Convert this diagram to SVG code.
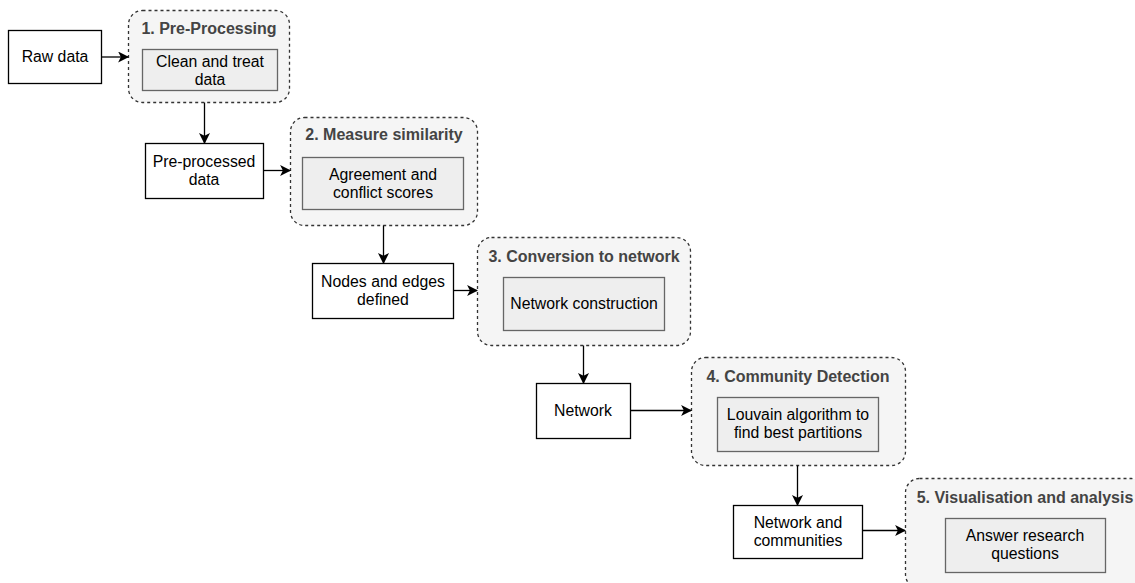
<svg xmlns="http://www.w3.org/2000/svg" width="1135" height="583" viewBox="0 0 1135 583">
<style>
.bg{fill:#ffffff}
.grp{fill:#f5f5f5;stroke:#333333;stroke-width:1.3;stroke-dasharray:3 3}
.inner{fill:#eeeeee;stroke:#666666;stroke-width:1.3}
.box{fill:#ffffff;stroke:#000000;stroke-width:1.3}
.t{font-family:"Liberation Sans",Arial,sans-serif;font-size:15.8px;fill:#000000;text-anchor:middle}
.h{font-family:"Liberation Sans",Arial,sans-serif;font-size:16px;font-weight:bold;fill:#444444;text-anchor:middle}
.c{fill:none;stroke:#000000;stroke-width:1.3}
</style>
<defs>
<marker id="arr" viewBox="0 0 10 10" refX="9" refY="5" markerWidth="11" markerHeight="11" markerUnits="userSpaceOnUse" orient="auto">
<path d="M0,0 L10,5 L0,10 L2.5,5 Z" fill="#000000"/>
</marker>
</defs>
<rect class="bg" x="0" y="0" width="1135" height="583"/>
<g id="raw-data">
<rect class="box" x="8.5" y="30.5" width="93" height="53"/>
<text class="t" x="55" y="62">Raw data</text>
</g>
<g id="step1">
<rect class="grp" x="128.5" y="10.5" width="161" height="92" rx="14"/>
<text class="h" x="209" y="34">1. Pre-Processing</text>
<rect class="inner" x="142.5" y="49.5" width="135" height="41"/>
<text class="t" x="210" y="67">Clean and treat</text>
<text class="t" x="210" y="85">data</text>
</g>
<g id="preprocessed">
<rect class="box" x="145.5" y="143.5" width="118" height="55"/>
<text class="t" x="204" y="167">Pre-processed</text>
<text class="t" x="204" y="185">data</text>
</g>
<g id="step2">
<rect class="grp" x="290.5" y="117.5" width="187" height="108" rx="14"/>
<text class="h" x="384" y="140">2. Measure similarity</text>
<rect class="inner" x="302.5" y="157.5" width="161" height="52"/>
<text class="t" x="383" y="180">Agreement and</text>
<text class="t" x="383" y="198">conflict scores</text>
</g>
<g id="nodes-edges">
<rect class="box" x="312.5" y="263.5" width="141" height="55"/>
<text class="t" x="383" y="287">Nodes and edges</text>
<text class="t" x="383" y="305">defined</text>
</g>
<g id="step3">
<rect class="grp" x="477.5" y="237.5" width="213" height="108" rx="14"/>
<text class="h" x="584" y="262">3. Conversion to network</text>
<rect class="inner" x="503.5" y="277.5" width="161" height="53"/>
<text class="t" x="584" y="309">Network construction</text>
</g>
<g id="network">
<rect class="box" x="536.5" y="383.5" width="94" height="55"/>
<text class="t" x="583" y="416">Network</text>
</g>
<g id="step4">
<rect class="grp" x="691.5" y="357.5" width="214" height="108" rx="14"/>
<text class="h" x="798" y="382">4. Community Detection</text>
<rect class="inner" x="717.5" y="397.5" width="161" height="54"/>
<text class="t" x="798" y="420">Louvain algorithm to</text>
<text class="t" x="798" y="438">find best partitions</text>
</g>
<g id="communities">
<rect class="box" x="733.5" y="505.5" width="129" height="53"/>
<text class="t" x="798" y="528">Network and</text>
<text class="t" x="798" y="546">communities</text>
</g>
<g id="step5">
<rect class="grp" x="905.5" y="478.5" width="240" height="110" rx="14"/>
<text class="h" x="1025" y="503">5. Visualisation and analysis</text>
<rect class="inner" x="945.5" y="518.5" width="160" height="54"/>
<text class="t" x="1025" y="541">Answer research</text>
<text class="t" x="1025" y="559">questions</text>
</g>
<g id="connectors">
<path class="c" d="M101.5,57 L128,57" marker-end="url(#arr)"/>
<path class="c" d="M204.5,102.5 L204.5,143" marker-end="url(#arr)"/>
<path class="c" d="M263.5,170.5 L290,170.5" marker-end="url(#arr)"/>
<path class="c" d="M383.5,225.5 L383.5,263" marker-end="url(#arr)"/>
<path class="c" d="M453.5,290.5 L477,290.5" marker-end="url(#arr)"/>
<path class="c" d="M583.5,345.5 L583.5,383" marker-end="url(#arr)"/>
<path class="c" d="M630.5,410.5 L691,410.5" marker-end="url(#arr)"/>
<path class="c" d="M797.5,465.5 L797.5,505" marker-end="url(#arr)"/>
<path class="c" d="M862.5,530.5 L905,530.5" marker-end="url(#arr)"/>
</g>
</svg>
